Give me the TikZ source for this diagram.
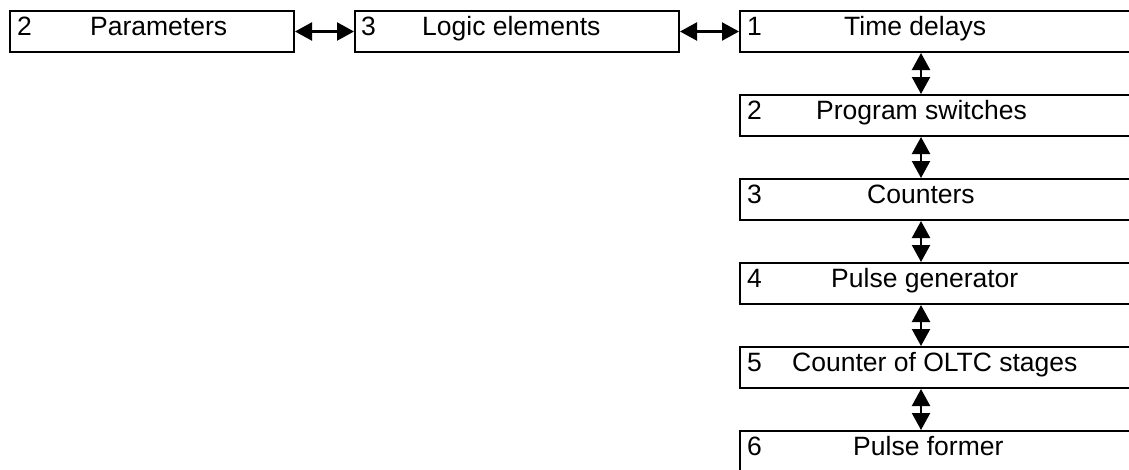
\documentclass[tikz,border=0pt]{standalone}
\usepackage{fontspec}
\setmainfont{Liberation Sans}
\usetikzlibrary{arrows.meta, positioning}

\begin{document}
\begin{tikzpicture}[x=1pt, y=-1pt,
  block/.style={rectangle, draw, line width=2pt, minimum height=41pt,
                anchor=north west, inner sep=0pt},
  lbl/.style={anchor=base west, inner sep=0pt,
              font=\fontsize{26.5}{31}\selectfont},
  link/.style={{Triangle[length=17pt, width=18pt]}-{Triangle[length=17pt, width=18pt]},
               line width=2.2pt},
]
\clip (0,0) rectangle (1129,469);

% Top row
\node[block, minimum width=284pt] (par) at (9,10) {};
\node[lbl] (parnum) at (17,35) {2};
\node[lbl] (partxt) at (90,35) {Parameters};

\node[block, minimum width=324pt] (log) at (354,10) {};
\node[lbl] (lognum) at (361,35) {3};
\node[lbl] (logtxt) at (422,35) {Logic elements};

% Right column
\foreach \i/\t/\tx in {1/Time delays/844, 2/Program switches/816,
                       3/Counters/867, 4/Pulse generator/831,
                       5/Counter of OLTC stages/792, 6/Pulse former/853} {
  \node[block, minimum width=420pt] (b\i) at (739, {10+84*(\i-1)}) {};
  \node[lbl] (bnum\i) at (747, {35.5+84*(\i-1)}) {\i};
  \node[lbl] (btxt\i) at (\tx, {35.5+84*(\i-1)}) {\t};
}

% Links
\draw[link] (par.east) -- (log.west);
\draw[link] (log.east) -- (b1.west);

\coordinate (axis) at (921,0);
\foreach \i in {1,...,5} {
  \pgfmathtruncatemacro{\j}{\i+1}
  \draw[link] (b\i.south -| axis) -- (b\j.north -| axis);
}

\end{tikzpicture}
\end{document}
